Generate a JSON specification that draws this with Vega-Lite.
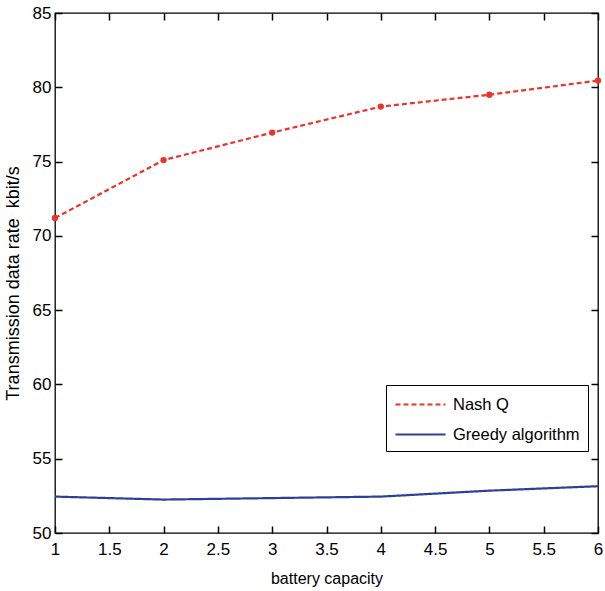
{
  "$schema": "https://vega.github.io/schema/vega-lite/v6.json",
  "width": 543,
  "height": 520,
  "autosize": "none",
  "padding": {"left": 55, "top": 13, "right": 7, "bottom": 58},
  "background": "white",
  "config": {
    "view": {"stroke": "black", "strokeWidth": 1.3},
    "font": "Liberation Sans",
    "axis": {
      "grid": false,
      "domain": false,
      "ticks": true,
      "tickColor": "#000000",
      "tickOpacity": 1,
      "tickWidth": 1.5,
      "tickSize": 7,
      "offset": -7,
      "zindex": 1,
      "labelColor": "black",
      "labelFont": "Liberation Sans",
      "labelFontSize": 17,
      "titleFont": "Liberation Sans",
      "titleFontSize": 16,
      "titleFontWeight": "normal",
      "titleColor": "black"
    }
  },
  "data": {
    "values": [
      {"capacity": 1, "rate": 71.2, "series": "Nash Q"},
      {"capacity": 2, "rate": 75.1, "series": "Nash Q"},
      {"capacity": 3, "rate": 76.95, "series": "Nash Q"},
      {"capacity": 4, "rate": 78.7, "series": "Nash Q"},
      {"capacity": 5, "rate": 79.5, "series": "Nash Q"},
      {"capacity": 6, "rate": 80.45, "series": "Nash Q"},
      {"capacity": 1, "rate": 52.45, "series": "Greedy algorithm"},
      {"capacity": 2, "rate": 52.25, "series": "Greedy algorithm"},
      {"capacity": 3, "rate": 52.35, "series": "Greedy algorithm"},
      {"capacity": 4, "rate": 52.45, "series": "Greedy algorithm"},
      {"capacity": 5, "rate": 52.85, "series": "Greedy algorithm"},
      {"capacity": 6, "rate": 53.15, "series": "Greedy algorithm"}
    ]
  },
  "layer": [
    {
      "mark": {"type": "line", "strokeWidth": 2.2, "clip": false},
      "encoding": {
        "x": {
          "field": "capacity", "type": "quantitative",
          "scale": {"domain": [1, 6], "nice": false, "zero": false},
          "axis": {"title": "battery capacity", "format": "~g", "values": [1, 1.5, 2, 2.5, 3, 3.5, 4, 4.5, 5, 5.5, 6], "ticks": true, "tickColor": "black", "tickSize": 7, "tickWidth": 1.5, "labelPadding": 8, "titlePadding": 13, "labelFlush": false}
        },
        "y": {
          "field": "rate", "type": "quantitative",
          "scale": {"domain": [50, 85], "nice": false, "zero": false},
          "axis": {"title": "Transmission data rate\u00a0\u00a0kbit/s", "titleFontSize": 18, "titleY": 270, "values": [50, 55, 60, 65, 70, 75, 80, 85], "ticks": true, "tickColor": "black", "tickSize": 7, "tickWidth": 1.5, "labelPadding": 4, "titlePadding": 10, "labelFlush": false}
        },
        "color": {
          "field": "series", "type": "nominal",
          "scale": {"domain": ["Nash Q", "Greedy algorithm"], "range": ["#e8342b", "#2e3f9a"]},
          "legend": {
            "title": null,
            "orient": "none",
            "legendX": 331,
            "legendY": 372,
            "direction": "vertical",
            "strokeColor": "black",
            "fillColor": "white",
            "padding": 8,
            "symbolType": "M-1,0H4",
            "symbolSize": 400,
            "symbolStrokeWidth": 2.2,
            "labelFont": "Liberation Sans",
            "labelFontSize": 16.5,
            "labelColor": "black",
            "rowPadding": 10,
            "labelOffset": 36
          }
        },
        "strokeDash": {
          "field": "series", "type": "nominal",
          "scale": {"domain": ["Nash Q", "Greedy algorithm"], "range": [[5, 3], [1, 0]]},
          "legend": null
        }
      }
    },
    {
      "transform": [{"filter": "datum.series === 'Nash Q'"}],
      "mark": {"type": "point", "filled": true, "size": 40, "color": "#e8342b", "opacity": 1, "clip": false},
      "encoding": {
        "x": {"field": "capacity", "type": "quantitative", "axis": {"orient": "top", "labels": false, "title": null, "ticks": true, "tickColor": "black", "tickSize": 7, "tickWidth": 1.5, "values": [1, 1.5, 2, 2.5, 3, 3.5, 4, 4.5, 5, 5.5, 6]}},
        "y": {"field": "rate", "type": "quantitative", "axis": {"orient": "right", "labels": false, "title": null, "ticks": true, "tickColor": "black", "tickSize": 7, "tickWidth": 1.5, "values": [50, 55, 60, 65, 70, 75, 80, 85]}}
      }
    }
  ],
  "resolve": {"axis": {"x": "independent", "y": "independent"}}
}
